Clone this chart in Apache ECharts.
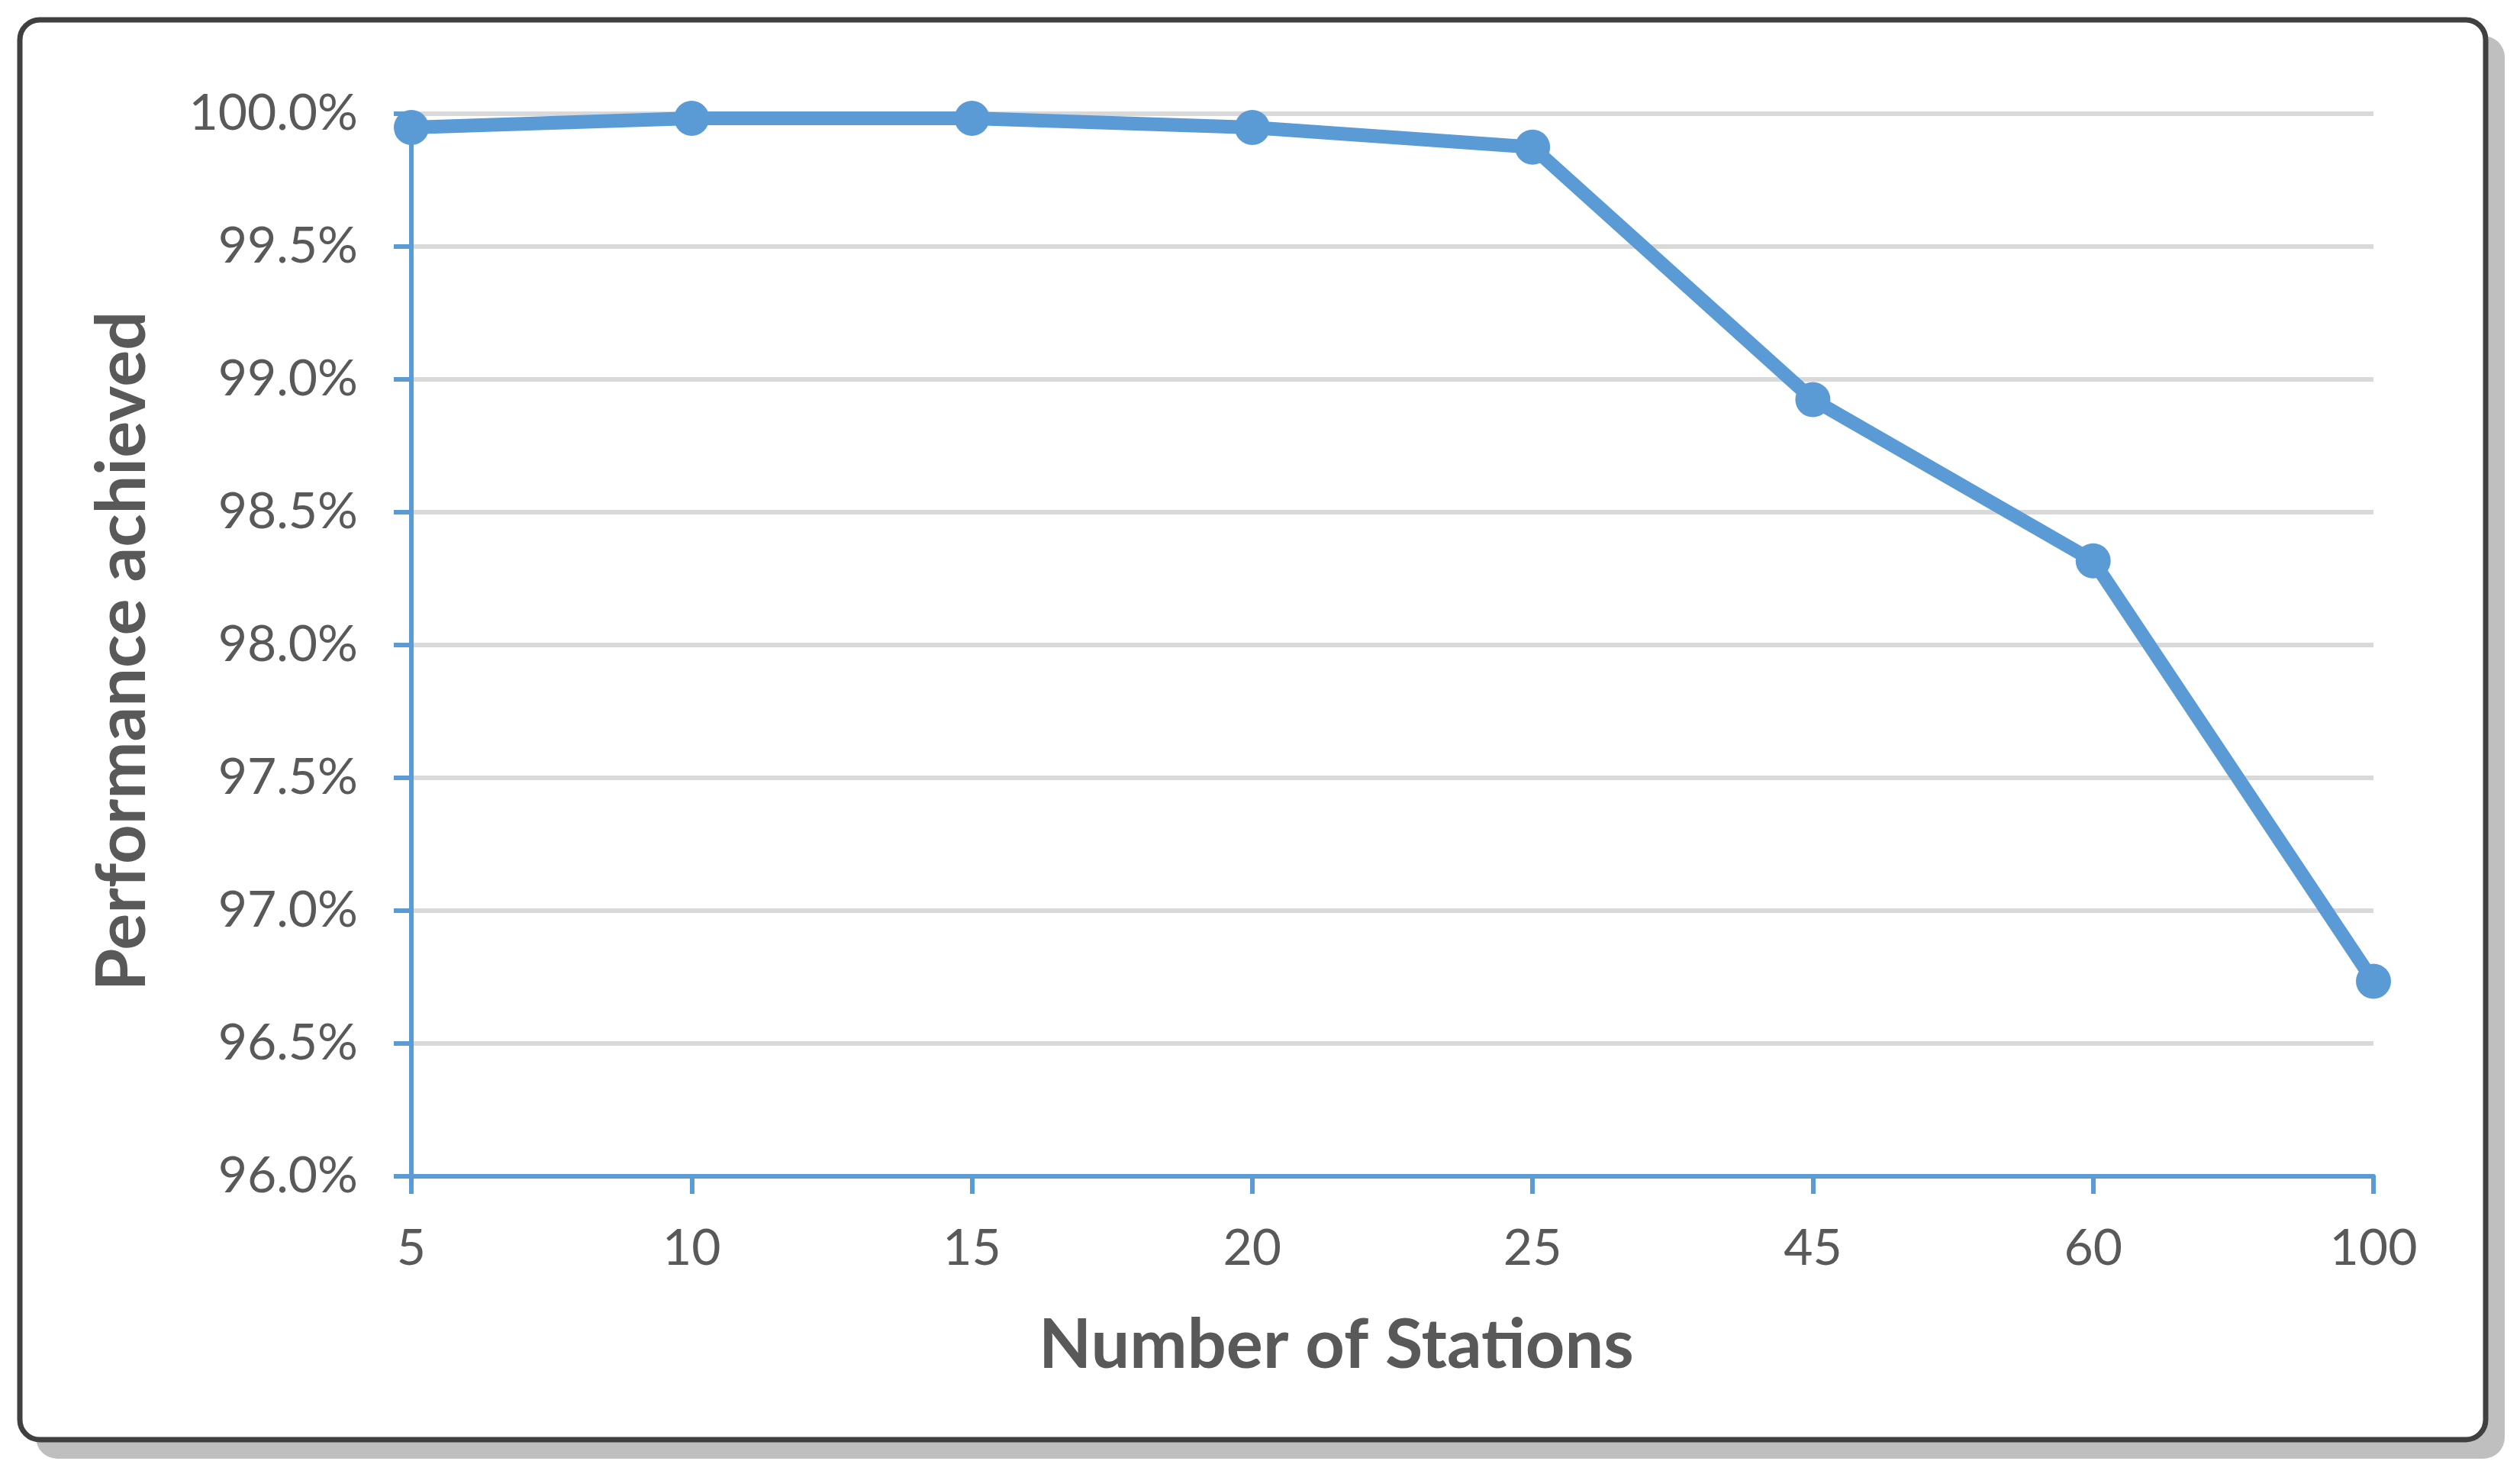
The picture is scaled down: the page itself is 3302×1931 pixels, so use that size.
<!DOCTYPE html>
<html>
<head>
<meta charset="utf-8">
<script src="https://cdn.jsdelivr.net/npm/echarts@6/dist/echarts.min.js"></script>
<style>
html,body{margin:0;padding:0;background:#fff;}
#c{width:3302px;height:1931px;}
</style>
</head>
<body>
<div id="c"></div>
<script>
var categories = ['5', '10', '15', '20', '25', '45', '60', '100'];
var performance = [99.948, 99.983, 99.983, 99.948, 99.874, 98.924, 98.317, 96.734];
var yMin = 96, yMax = 100, yStep = 0.5;
var xTitle = 'Number of Stations';
var yTitle = 'Performance achieved';

var blue = '#5b9bd5';
var textColor = '#595959';
var font = 'Lato';

var chart = echarts.init(document.getElementById('c'), null, {renderer: 'canvas'});
chart.setOption({
  animation: false,
  backgroundColor: '#ffffff',
  grid: {left: 539, right: 192, top: 149, bottom: 390, containLabel: false},
  graphic: [
    {type: 'rect', z: -20, shape: {x: 47, y: 47, width: 3235, height: 1864, r: 28}, style: {fill: '#bfbfbf'}},
    {type: 'rect', z: -10, shape: {x: 26, y: 26, width: 3231, height: 1860, r: 26}, style: {fill: '#ffffff', stroke: '#404040', lineWidth: 7}},
    {type: 'text', z: 10, x: 1751, y: 1763, style: {text: xTitle, fill: textColor, font: 'bold 90px Lato', textAlign: 'center', textVerticalAlign: 'middle'}},
    {type: 'text', z: 10, x: 161, y: 853, rotation: Math.PI / 2, style: {text: yTitle, fill: textColor, font: 'bold 90px Lato', textAlign: 'center', textVerticalAlign: 'middle'}}
  ],
  xAxis: {
    type: 'category',
    data: categories,
    boundaryGap: false,
    axisLine: {lineStyle: {color: blue, width: 6}},
    axisTick: {show: true, length: 23, alignWithLabel: true, lineStyle: {color: blue, width: 6}},
    axisLabel: {color: textColor, fontFamily: font, fontSize: 66, margin: 62},
    splitLine: {show: false}
  },
  yAxis: {
    type: 'value',
    min: yMin, max: yMax, interval: yStep,
    axisLine: {show: true, lineStyle: {color: blue, width: 6}},
    axisTick: {show: true, length: 23, lineStyle: {color: blue, width: 6}},
    axisLabel: {color: textColor, fontFamily: font, fontSize: 66, margin: 70,
      formatter: function (v) { return v.toFixed(1) + '%'; }},
    splitLine: {show: true, lineStyle: {color: '#d9d9d9', width: 6}}
  },
  series: [{
    type: 'line',
    data: performance,
    symbol: 'circle',
    symbolSize: 46,
    lineStyle: {color: blue, width: 18},
    itemStyle: {color: blue},
    z: 5
  }]
});
</script>
</body>
</html>
